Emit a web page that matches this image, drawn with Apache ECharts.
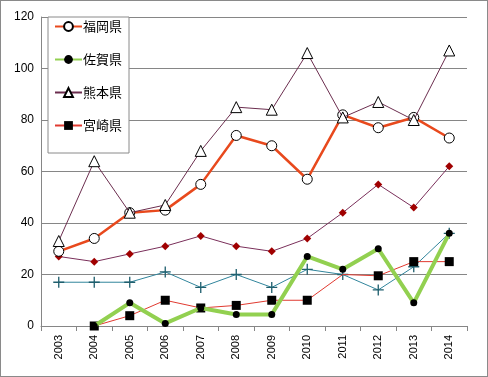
<!DOCTYPE html>
<html>
<head>
<meta charset="utf-8">
<script src="https://cdn.jsdelivr.net/npm/echarts@6/dist/echarts.min.js"></script>
<style>
  html, body { margin: 0; padding: 0; background: #fff; }
  #chart { width: 488px; height: 377px; box-sizing: border-box; border: 1px solid #8a8a8a; }
</style>
</head>
<body>
<div id="chart"></div>
<script>
// 年度
const years = ['2003', '2004', '2005', '2006', '2007', '2008', '2009', '2010', '2011', '2012', '2013', '2014'];
// 県別の値
const fukuoka = [29, 34, 44, 45, 55, 74, 70, 57, 82, 77, 81, 73];
const saga = [null, 0, 9, 1, 7, 4.5, 4.5, 27, 22, 30, 9, 36];
const kumamoto = [33, 64, 44, 47, 68, 85, 84, 106, 81, 87, 80, 107];
const miyazaki = [null, 0, 4, 10, 7, 8, 10, 10, 20, 19.5, 25, 25];
// 凡例なしの系列
const seriesRed = [27, 25, 28, 31, 35, 31, 29, 34, 44, 55, 46, 62];
const seriesTeal = [17, 17, 17, 21, 15, 20, 15, 22, 20, 14, 23, 36];
const yTicks = [0, 20, 40, 60, 80, 100, 120];

const plusPath = 'path://M4.4,0H5.6V4.4H10V5.6H5.6V10H4.4V5.6H0V4.4H4.4Z';

const chart = echarts.init(document.getElementById('chart'));

const option = {
  animation: false,
  textStyle: { fontFamily: 'Liberation Sans, Arial, sans-serif' },
  grid: { left: 40, right: 20, top: 16, bottom: 50 },
  legend: {
    orient: 'vertical',
    left: 47,
    top: 16,
    data: ['福岡県', '佐賀県', '熊本県', '宮崎県'],
    backgroundColor: '#fff',
    borderColor: '#8a8a8a',
    borderWidth: 1,
    padding: [3, 7, 21, 6],
    itemWidth: 27,
    itemHeight: 11,
    itemGap: 20,
    textStyle: { fontFamily: 'Noto Sans CJK JP', fontSize: 13, color: '#000', padding: [0, 0, 0, -4] }
  },
  xAxis: {
    type: 'category',
    data: years,
    boundaryGap: true,
    axisLine: { lineStyle: { color: '#868686' } },
    axisTick: { show: true, length: 5, lineStyle: { color: '#868686' } },
    axisLabel: { rotate: 90, fontSize: 11, color: '#000', margin: 9 }
  },
  yAxis: {
    type: 'value',
    min: yTicks[0],
    max: yTicks[yTicks.length - 1],
    interval: 20,
    axisLine: { show: true, lineStyle: { color: '#868686' } },
    axisTick: { show: false },
    axisLabel: { fontSize: 12, color: '#000', margin: 7 },
    splitLine: { lineStyle: { color: '#868686' } }
  },
  series: [
    {
      name: 'seriesTeal', type: 'line', data: seriesTeal, z: 2,
      lineStyle: { color: '#31859c', width: 1 },
      symbol: plusPath, symbolSize: 11,
      itemStyle: { color: '#1f5f6e' }
    },
    {
      name: 'seriesRed', type: 'line', data: seriesRed, z: 2,
      lineStyle: { color: '#7a2f5a', width: 1 },
      symbol: 'diamond', symbolSize: 8,
      itemStyle: { color: '#a00000' }
    },
    {
      name: '宮崎県', type: 'line', data: miyazaki.map((v, i) => i === 8 ? { value: v, symbol: 'none' } : v), z: 3,
      lineStyle: { color: '#e03a30', width: 1 },
      symbol: 'rect', symbolSize: 9,
      itemStyle: { color: '#000' }
    },
    {
      name: '佐賀県', type: 'line', data: saga, z: 4,
      lineStyle: { color: '#92d050', width: 4 },
      symbol: 'circle', symbolSize: 7,
      itemStyle: { color: '#000' }
    },
    {
      name: '福岡県', type: 'line', data: fukuoka, z: 5,
      lineStyle: { color: '#e8491d', width: 2.5 },
      symbol: 'circle', symbolSize: 10,
      itemStyle: { color: '#fff', borderColor: '#000', borderWidth: 1 }
    },
    {
      name: '熊本県', type: 'line', data: kumamoto, z: 6,
      lineStyle: { color: '#6b2d4e', width: 1 },
      symbol: 'triangle', symbolSize: 11,
      itemStyle: { color: '#fff', borderColor: '#000', borderWidth: 1 }
    }
  ]
};

chart.setOption(option);
</script>
</body>
</html>
